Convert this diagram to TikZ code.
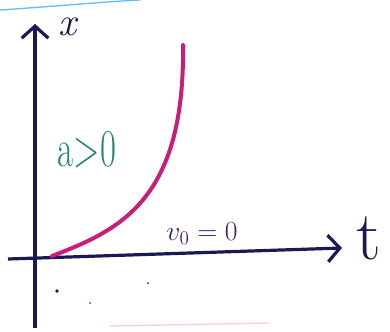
\documentclass[tikz,border=0pt]{standalone}
\usetikzlibrary{arrows.meta}
\definecolor{ink}{RGB}{25,25,85}
\definecolor{curvec}{RGB}{200,30,120}
\definecolor{labelc}{RGB}{40,130,120}
\definecolor{vc}{RGB}{60,30,110}
\tikzset{
  axis/.style={draw=ink, line width=2.4pt, -{Straight Barb[length=9pt,width=20pt,line width=2.4pt]}},
  graph/.style={draw=curvec, line width=3pt, line cap=round},
  lbl/.style={inner sep=0pt}
}
\begin{document}
\begin{tikzpicture}[x=0.75pt,y=-0.75pt]
\useasboundingbox (0,0) rectangle (390,332);
% scan edge
\draw[draw=blue!45!cyan, line width=1pt, opacity=0.6] (0,10) .. controls (60,6) and (100,2) .. (140,0);
\draw[draw=magenta!40, line width=1pt, opacity=0.5] (110,326) -- (270,323);
% axes
\coordinate (xb) at (35,328);
\coordinate (xt) at (35,24);
\coordinate (tl) at (8,259);
\coordinate (tr) at (342,248);
\draw[axis] (xb) -- (xt);
\draw[axis] (tl) -- (tr);
\node[lbl, text=ink, font=\fontsize{30}{30}\selectfont\itshape] (xlab) at (67,27) {x};
\node[lbl, text=ink, font=\fontsize{52}{52}\selectfont] (tlab) at (369,238) {t};
% curve
\coordinate (c0) at (52,256);
\coordinate (c1) at (183,45);
\draw[graph] (c0) .. controls (120,230) and (185,200) .. (c1);
% labels
\node[lbl, text=labelc, font=\fontsize{40}{40}\selectfont, xscale=0.65] (alab) at (87,150) {a>0};
\node[lbl, text=vc, font=\fontsize{22}{22}\selectfont] (vlab) at (202,234) {$v_0=0$};
% specks
\fill[ink] (57,291) circle (1.8);
\fill[ink] (148,283) circle (1);
\fill[ink] (90,303) circle (0.9);
\end{tikzpicture}
\end{document}
